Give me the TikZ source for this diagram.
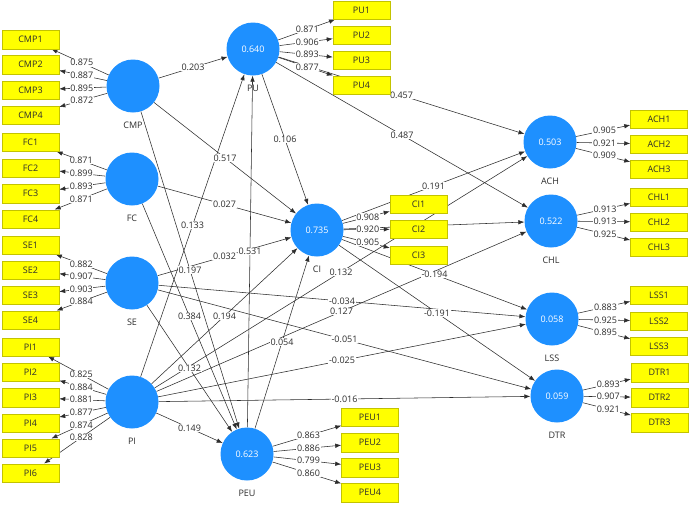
\documentclass[tikz,border=0pt]{standalone}
\usepackage{fontspec}
\setmainfont{Open Sans}
\usetikzlibrary{arrows.meta,calc}
\pgfdeclarelayer{lines}
\pgfdeclarelayer{labels}
\pgfsetlayers{lines,labels,main}
\definecolor{lvblue}{RGB}{30,144,255}
\definecolor{mvyellow}{RGB}{255,255,0}
\definecolor{mvborder}{RGB}{195,195,0}
\definecolor{ink}{RGB}{45,45,45}
\newcommand\smallfont{\fontsize{9}{10}\selectfont}
\tikzset{
 lv/.style={circle, fill=lvblue, draw=none, minimum size=53pt, inner sep=0pt, text=white, font=\smallfont},
 mv/.style={rectangle, fill=mvyellow, draw=mvborder, line width=0.5pt, minimum width=57pt, minimum height=18.5pt, inner sep=0pt, text=ink, font=\smallfont},
 lvname/.style={text=ink, font=\smallfont, inner sep=1pt},
 conn/.style={draw=ink, line width=0.55pt, -{Latex[length=6pt,width=4.5pt]}},
 wt/.style={fill=white, inner sep=0.6pt, text=ink, font=\smallfont},
}
\newcommand\plsarrow[3]{%
 \begin{pgfonlayer}{lines}\draw[conn] (#1) -- (#2);\end{pgfonlayer}%
 \begin{pgfonlayer}{labels}\path (#1.center) -- (#2.center) node[midway,wt]{#3};\end{pgfonlayer}}
\begin{document}
\begin{tikzpicture}[x=1pt,y=-1pt]
\begin{pgfonlayer}{lines}
\fill[white] (0,0) rectangle (690,504);
\end{pgfonlayer}
\useasboundingbox (0,0) rectangle (690,504);
% latent variables
\node[lv] (CMP) at (133,86) {};
\node[lv] (FC) at (132,179) {};
\node[lv] (SE) at (132,283) {};
\node[lv] (PI) at (132,402) {};
\node[lv] (PU) at (253,49) {0.640};
\node[lv] (CI) at (317,230) {0.735};
\node[lv] (PEU) at (247,454) {0.623};
\node[lv] (ACH) at (550,142) {0.503};
\node[lv] (CHL) at (551,221) {0.522};
\node[lv] (LSS) at (552,319) {0.058};
\node[lv] (DTR) at (557,396) {0.059};
\foreach \n in {CMP,FC,SE,PI,PU,CI,PEU,ACH,CHL,LSS,DTR}{
  \node[lvname] (\n-name) at ($(\n)+(0,39)$) {\n};
}
% indicators, left
\node[mv] (CMP1) at (30.5,39.5) {CMP1};
\node[mv] (CMP2) at (30.5,64.5) {CMP2};
\node[mv] (CMP3) at (30.5,90) {CMP3};
\node[mv] (CMP4) at (30.5,115) {CMP4};
\node[mv] (FC1) at (30.5,142) {FC1};
\node[mv] (FC2) at (30.5,168) {FC2};
\node[mv] (FC3) at (30.5,193.5) {FC3};
\node[mv] (FC4) at (30.5,219) {FC4};
\node[mv] (SE1) at (30.5,245) {SE1};
\node[mv] (SE2) at (30.5,270) {SE2};
\node[mv] (SE3) at (30.5,295) {SE3};
\node[mv] (SE4) at (30.5,320) {SE4};
\node[mv] (PI1) at (30.5,347) {PI1};
\node[mv] (PI2) at (30.5,372) {PI2};
\node[mv] (PI3) at (30.5,397.5) {PI3};
\node[mv] (PI4) at (30.5,423) {PI4};
\node[mv] (PI5) at (30.5,448) {PI5};
\node[mv] (PI6) at (30.5,473) {PI6};
% PU
\node[mv] (PU1) at (361.5,10) {PU1};
\node[mv] (PU2) at (361.5,35) {PU2};
\node[mv] (PU3) at (361.5,60) {PU3};
\node[mv] (PU4) at (361.5,85) {PU4};
% CI
\node[mv] (CI1) at (418.5,204) {CI1};
\node[mv] (CI2) at (418.5,229) {CI2};
\node[mv] (CI3) at (418.5,255) {CI3};
% PEU
\node[mv] (PEU1) at (370,417) {PEU1};
\node[mv] (PEU2) at (370,442.5) {PEU2};
\node[mv] (PEU3) at (370,467.5) {PEU3};
\node[mv] (PEU4) at (370,492.5) {PEU4};
% right
\node[mv] (ACH1) at (659,119) {ACH1};
\node[mv] (ACH2) at (659,144) {ACH2};
\node[mv] (ACH3) at (659,169) {ACH3};
\node[mv] (CHL1) at (659,197) {CHL1};
\node[mv] (CHL2) at (659,222) {CHL2};
\node[mv] (CHL3) at (659,247) {CHL3};
\node[mv] (LSS1) at (659,295) {LSS1};
\node[mv] (LSS2) at (659,321) {LSS2};
\node[mv] (LSS3) at (659,346) {LSS3};
\node[mv] (DTR1) at (659.5,372.5) {DTR1};
\node[mv] (DTR2) at (659.5,397.5) {DTR2};
\node[mv] (DTR3) at (659.5,422.5) {DTR3};
% outer loadings
\plsarrow{CMP}{CMP1}{0.875}
\plsarrow{CMP}{CMP2}{0.887}
\plsarrow{CMP}{CMP3}{0.895}
\plsarrow{CMP}{CMP4}{0.872}
\plsarrow{FC}{FC1}{0.871}
\plsarrow{FC}{FC2}{0.899}
\plsarrow{FC}{FC3}{0.893}
\plsarrow{FC}{FC4}{0.871}
\plsarrow{SE}{SE1}{0.882}
\plsarrow{SE}{SE2}{0.907}
\plsarrow{SE}{SE3}{0.903}
\plsarrow{SE}{SE4}{0.884}
\plsarrow{PI}{PI1}{0.825}
\plsarrow{PI}{PI2}{0.884}
\plsarrow{PI}{PI3}{0.881}
\plsarrow{PI}{PI4}{0.877}
\plsarrow{PI}{PI5}{0.874}
\plsarrow{PI}{PI6}{0.828}
\plsarrow{PU}{PU1}{0.871}
\plsarrow{PU}{PU2}{0.906}
\plsarrow{PU}{PU3}{0.893}
\plsarrow{PU}{PU4}{0.877}
\plsarrow{CI}{CI1}{0.908}
\plsarrow{CI}{CI2}{0.920}
\plsarrow{CI}{CI3}{0.905}
\plsarrow{PEU}{PEU1}{0.863}
\plsarrow{PEU}{PEU2}{0.886}
\plsarrow{PEU}{PEU3}{0.799}
\plsarrow{PEU}{PEU4}{0.860}
\plsarrow{ACH}{ACH1}{0.905}
\plsarrow{ACH}{ACH2}{0.921}
\plsarrow{ACH}{ACH3}{0.909}
\plsarrow{CHL}{CHL1}{0.913}
\plsarrow{CHL}{CHL2}{0.913}
\plsarrow{CHL}{CHL3}{0.925}
\plsarrow{LSS}{LSS1}{0.883}
\plsarrow{LSS}{LSS2}{0.925}
\plsarrow{LSS}{LSS3}{0.895}
\plsarrow{DTR}{DTR1}{0.893}
\plsarrow{DTR}{DTR2}{0.907}
\plsarrow{DTR}{DTR3}{0.921}
% structural paths
\plsarrow{CMP}{PU}{0.203}
\plsarrow{CMP}{CI}{0.517}
\plsarrow{CMP}{PEU}{0.197}
\plsarrow{FC}{CI}{0.027}
\plsarrow{FC}{PEU}{0.384}
\plsarrow{SE}{CI}{0.032}
\plsarrow{SE}{PEU}{0.132}
\plsarrow{SE}{LSS}{-0.034}
\plsarrow{SE}{DTR}{-0.051}
\plsarrow{PI}{PU}{0.133}
\plsarrow{PI}{CI}{0.194}
\plsarrow{PI}{PEU}{0.149}
\plsarrow{PI}{ACH}{0.132}
\plsarrow{PI}{CHL}{0.127}
\plsarrow{PI}{LSS}{-0.025}
\plsarrow{PI}{DTR}{-0.016}
\plsarrow{PEU}{PU}{0.531}
\plsarrow{PEU}{CI}{0.054}
\plsarrow{PU}{CI}{0.106}
\plsarrow{PU}{ACH}{0.457}
\plsarrow{PU}{CHL}{0.487}
\plsarrow{CI}{ACH}{0.191}
\plsarrow{CI}{LSS}{-0.194}
\plsarrow{CI}{DTR}{-0.191}
\begin{pgfonlayer}{lines}\draw[conn] (CI) -- (CHL);\end{pgfonlayer}
\end{tikzpicture}
\end{document}
